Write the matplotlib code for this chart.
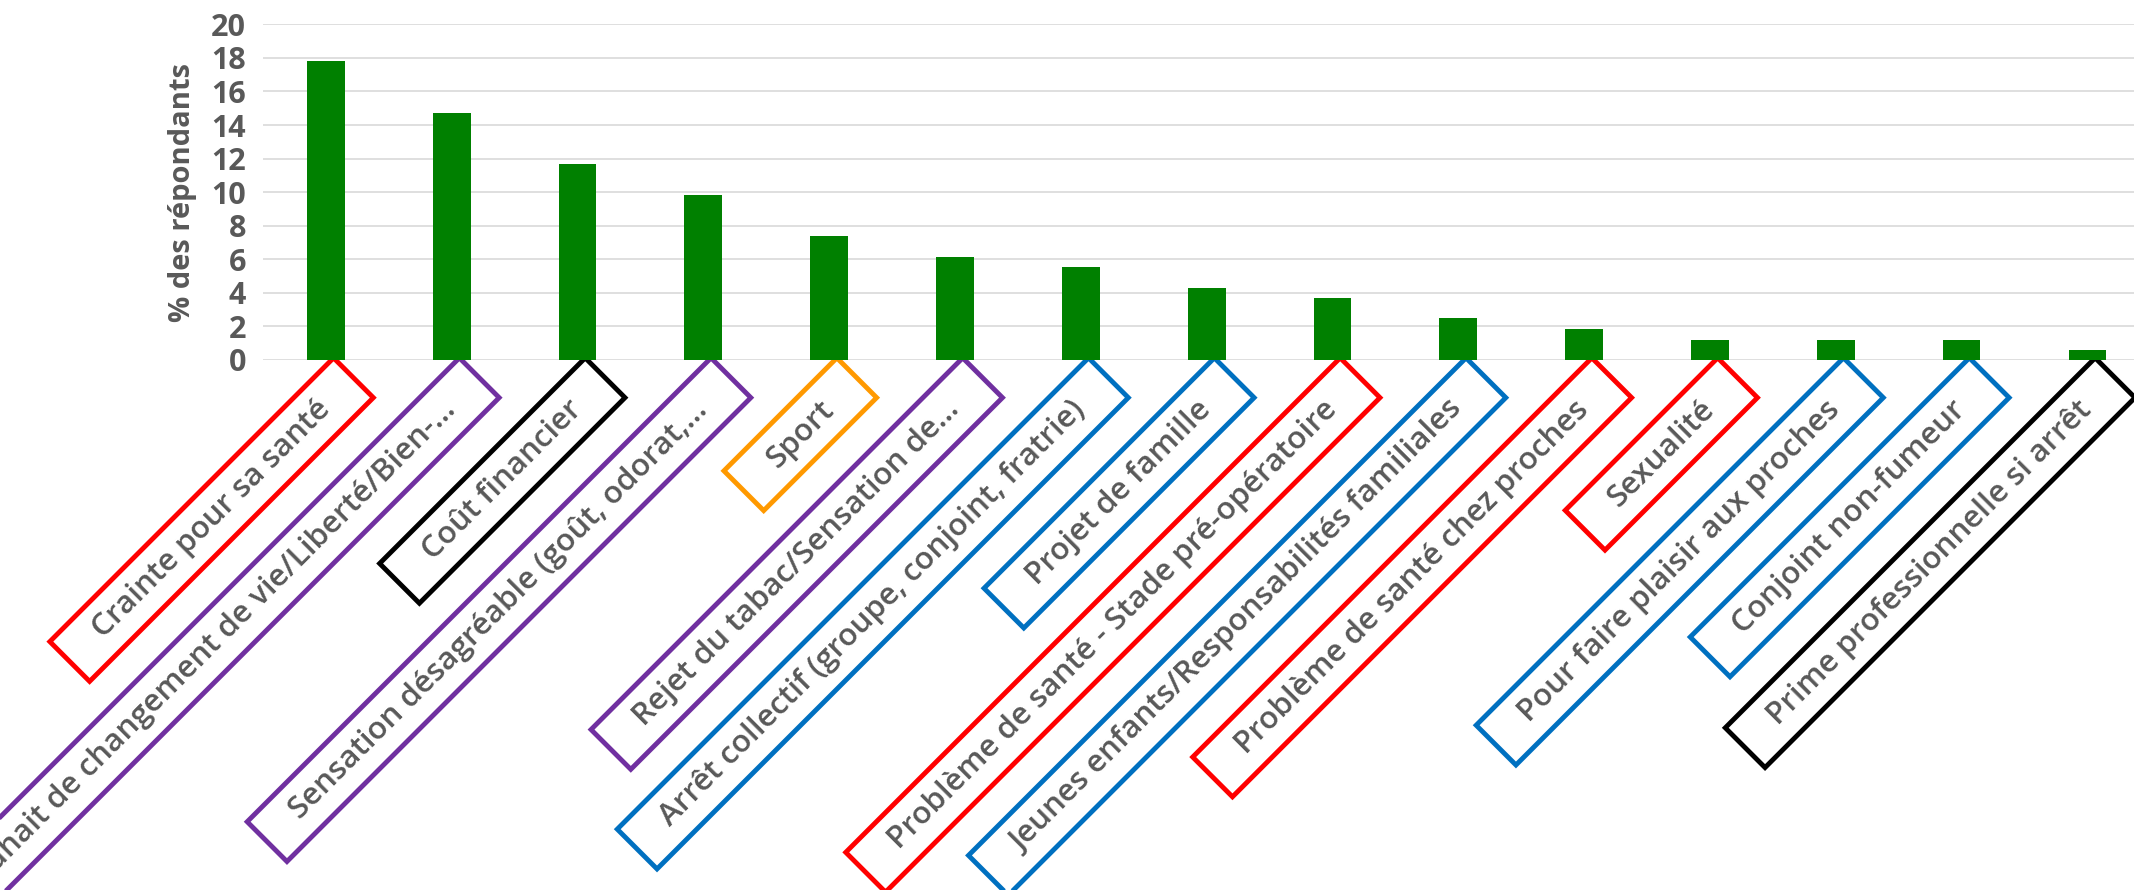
import matplotlib
matplotlib.use("Agg")
import matplotlib.pyplot as plt
from matplotlib.path import Path

categories = [
    "Crainte pour sa santé",
    "Souhait de changement de vie/Liberté/Bien-…",
    "Coût financier",
    "Sensation désagréable (goût, odorat,…",
    "Sport",
    "Rejet du tabac/Sensation de…",
    "Arrêt collectif (groupe, conjoint, fratrie)",
    "Projet de famille",
    "Problème de santé - Stade pré-opératoire",
    "Jeunes enfants/Responsabilités familiales",
    "Problème de santé chez proches",
    "Sexualité",
    "Pour faire plaisir aux proches",
    "Conjoint non-fumeur",
    "Prime professionnelle si arrêt",
]
values = [17.8, 14.7, 11.7, 9.8, 7.4, 6.1, 5.5, 4.3, 3.7, 2.5, 1.8, 1.15, 1.15, 1.15, 0.55]
box_colors = ["#FF0000", "#7030A0", "#000000", "#7030A0", "#FF9900", "#7030A0",
              "#0070C0", "#0070C0", "#FF0000", "#0070C0", "#FF0000", "#FF0000",
              "#0070C0", "#0070C0", "#000000"]
y_ticks = [0, 2, 4, 6, 8, 10, 12, 14, 16, 18, 20]

plt.rcParams['font.family'] = ['Open Sans', 'DejaVu Sans']
grey = "#595959"


def long_box(x0, y0, width, height, mutation_size):
    # wider padding along the text than across it
    px = 1.25 * mutation_size
    py = 0.42 * mutation_size
    x0, y0 = x0 - px, y0 - py
    x1, y1 = x0 + width + 2 * px, y0 + height + 2 * py
    return Path([(x0, y0), (x1, y0), (x1, y1), (x0, y1), (x0, y0)], closed=True)


fig = plt.figure(figsize=(21.34, 8.90), dpi=100)
ax = fig.add_axes([0.1232, 0.596, 0.8768, 0.3765])

x = list(range(len(categories)))
ax.bar(x, values, width=0.3, color="#008000", zorder=3)

ax.set_xlim(-0.5, 14.37)
ax.set_ylim(0, 20)
ax.set_yticks(y_ticks)
ax.set_yticklabels([str(t) for t in y_ticks], fontsize=22, fontweight='bold', color=grey)
ax.yaxis.grid(True, color="#D9D9D9", lw=1.2, zorder=0)
ax.set_axisbelow(True)
for s in ax.spines.values():
    s.set_visible(False)
ax.tick_params(axis='both', length=0)
ax.tick_params(axis='y', pad=12)
ax.tick_params(axis='x', pad=33)

ax.set_ylabel("% des répondants", fontsize=21, fontweight='bold', color=grey, labelpad=10)

ax.set_xticks(x)
ax.set_xticklabels(categories, rotation=45, ha='right', va='center', rotation_mode='anchor',
                   fontsize=22.5, fontweight='semibold', color=grey)
for lab, c in zip(ax.get_xticklabels(), box_colors):
    lab.set_bbox(dict(boxstyle=long_box, fc='none', ec=c, lw=3.5))

fig.savefig("out.png", dpi=100)
